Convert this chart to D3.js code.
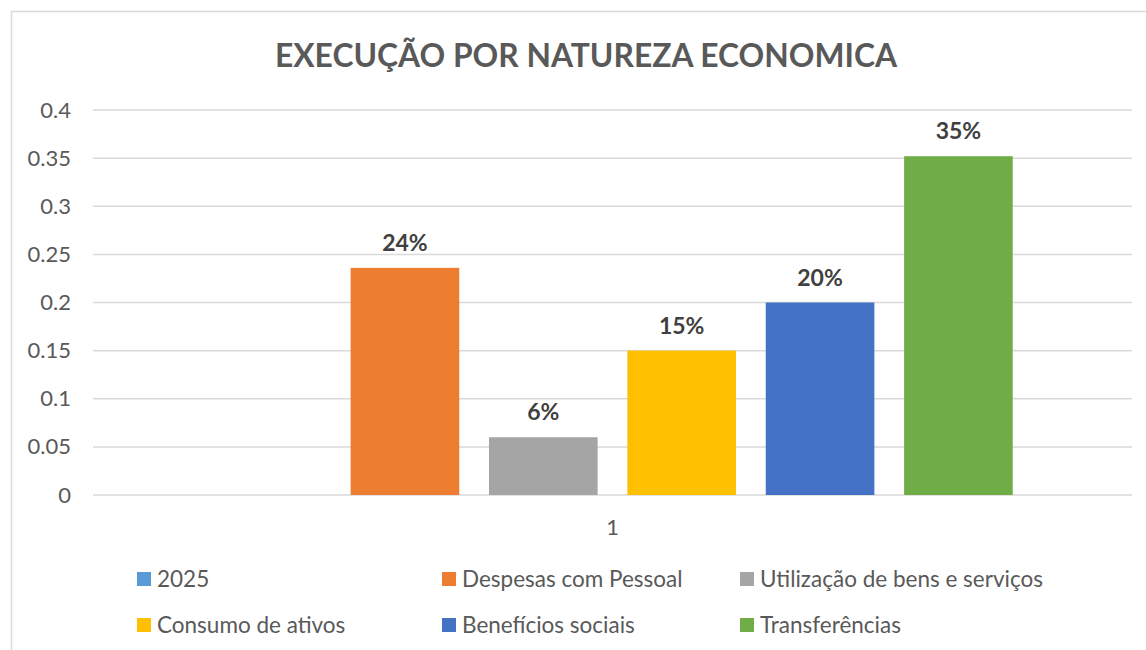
<!DOCTYPE html>
<html>
<head>
<meta charset="utf-8">
<script src="https://cdn.jsdelivr.net/npm/d3@7"></script>
<style>
  body { margin: 0; background: #fff; }
  svg text { font-family: Lato, "Open Sans", sans-serif; }
</style>
</head>
<body>
<div id="chart"></div>
<script>
// Data
const categories = ["1"];
const seriesNames = [
  "2025",
  "Despesas com Pessoal",
  "Utilização de bens e serviços",
  "Consumo de ativos",
  "Benefícios sociais",
  "Transferências",
];
const seriesValues = [null, 0.236, 0.06, 0.15, 0.2, 0.352];
const seriesLabels = ["", "24%", "6%", "15%", "20%", "35%"];
const seriesColors = ["#5b9bd5", "#ed7d31", "#a5a5a5", "#ffc000", "#4472c4", "#70ad47"];
const yTicks = [0, 0.05, 0.1, 0.15, 0.2, 0.25, 0.3, 0.35, 0.4];

const width = 1146;
const height = 650;
const plot = { left: 93, right: 1132, top: 110, bottom: 495 };

const svg = d3
  .select("#chart")
  .append("svg")
  .attr("width", width)
  .attr("height", height);

// Chart border
svg
  .append("rect")
  .attr("x", 11.5)
  .attr("y", 11.5)
  .attr("width", width)
  .attr("height", height)
  .attr("fill", "#fff")
  .attr("stroke", "#d9d9d9")
  .attr("stroke-width", 1.5);

// Title
svg
  .append("text")
  .attr("x", 586)
  .attr("y", 67)
  .attr("text-anchor", "middle")
  .attr("fill", "#595959")
  .style("font-size", "31.8px")
  .style("font-weight", "bold")
  .text("EXECUÇÃO POR NATUREZA ECONOMICA");

// Scales
const x0 = d3
  .scaleBand()
  .domain(categories)
  .range([plot.left, plot.right])
  .paddingOuter(0.149);

const x1 = d3
  .scaleBand()
  .domain(seriesNames)
  .range([0, x0.bandwidth()])
  .paddingInner(0.215)
  .paddingOuter(0);

const y = d3.scaleLinear().domain([0, 0.4]).range([plot.bottom, plot.top]);

// Gridlines
svg
  .append("g")
  .selectAll("line")
  .data(yTicks)
  .join("line")
  .attr("x1", plot.left)
  .attr("x2", plot.right)
  .attr("y1", (d) => y(d))
  .attr("y2", (d) => y(d))
  .attr("stroke", "#d9d9d9")
  .attr("stroke-width", 1.5);

// Y axis labels
const yAxis = d3
  .axisLeft(y)
  .tickValues(yTicks)
  .tickFormat(d3.format("~g"))
  .tickSize(0)
  .tickPadding(0);

svg
  .append("g")
  .attr("transform", `translate(71,0)`)
  .call(yAxis)
  .call((g) => g.select(".domain").remove())
  .selectAll("text")
  .attr("fill", "#595959")
  .style("font-size", "22px");

// X axis label
const xAxis = d3.axisBottom(x0).tickSize(0).tickPadding(24);
svg
  .append("g")
  .attr("transform", `translate(0,${plot.bottom})`)
  .call(xAxis)
  .call((g) => g.select(".domain").remove())
  .selectAll("text")
  .attr("fill", "#595959")
  .style("font-size", "22px");

// Bars
const rows = seriesNames.map((name, i) => ({
  name,
  value: seriesValues[i],
  label: seriesLabels[i],
  color: seriesColors[i],
}));

const group = svg
  .append("g")
  .attr("transform", `translate(${x0(categories[0])},0)`);

group
  .selectAll("rect")
  .data(rows.filter((d) => d.value != null))
  .join("rect")
  .attr("x", (d) => x1(d.name))
  .attr("y", (d) => y(d.value))
  .attr("width", x1.bandwidth())
  .attr("height", (d) => y(0) - y(d.value))
  .attr("fill", (d) => d.color);

// Data labels
group
  .selectAll("text")
  .data(rows.filter((d) => d.value != null))
  .join("text")
  .attr("x", (d) => x1(d.name) + x1.bandwidth() / 2)
  .attr("y", (d) => y(d.value) - 17)
  .attr("text-anchor", "middle")
  .attr("fill", "#404040")
  .style("font-size", "23px")
  .style("font-weight", "bold")
  .text((d) => d.label);

// Legend
const legendCols = [137, 442, 740];
const legendRows = [579, 625];

const legend = svg
  .append("g")
  .selectAll("g")
  .data(rows)
  .join("g")
  .attr(
    "transform",
    (d, i) => `translate(${legendCols[i % 3]},${legendRows[Math.floor(i / 3)]})`
  );

legend
  .append("rect")
  .attr("x", 0)
  .attr("y", -7)
  .attr("width", 14)
  .attr("height", 14)
  .attr("fill", (d) => d.color);

legend
  .append("text")
  .attr("x", 20)
  .attr("y", 0)
  .attr("dy", "0.35em")
  .attr("fill", "#595959")
  .style("font-size", "22.5px")
  .text((d) => d.name);
</script>
</body>
</html>
